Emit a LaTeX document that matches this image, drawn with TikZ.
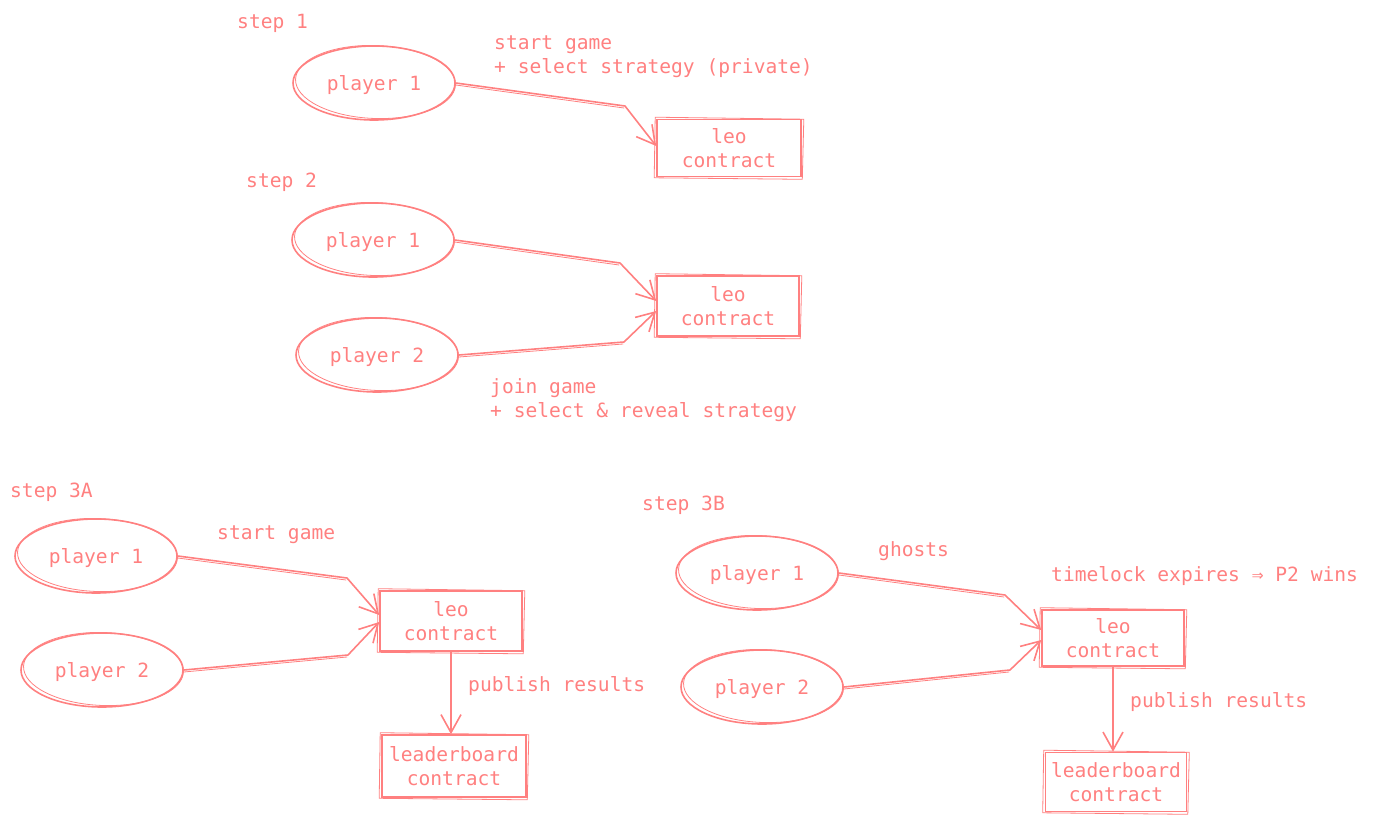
\documentclass[tikz,border=0pt]{standalone}
\usepackage{fontspec}
\setmonofont{DejaVu Sans Mono}
\usetikzlibrary{arrows.meta,calc,shapes.geometric}
\definecolor{sal}{RGB}{255,128,128}
\tikzset{
  every node/.style={text=sal, font=\ttfamily\fontsize{19.6}{24}\selectfont},
  pl/.style={ellipse, draw=sal, line width=1.6pt, minimum width=162pt, minimum height=74pt, inner sep=0pt, text height=18.5pt, text depth=4.5pt},
  bx/.style={rectangle, draw=sal, line width=1.6pt, minimum width=144pt, minimum height=58pt, align=center, inner sep=0pt},
  lbl/.style={anchor=west, align=left, inner sep=0pt},
  arr/.style={draw=sal, line width=1.6pt, line join=round, line cap=round, -{Straight Barb[length=18pt,width=20pt,line width=1.6pt]}},
  sk/.style={draw=sal, line width=0.8pt, line cap=round},
}
\newcommand\skell[1]{\draw[sk] ([shift={(1.5,-1)}]#1.center) ellipse [x radius=80, y radius=36.5, rotate=-2];}
\newcommand\skbox[1]{\draw[sk] ([shift={(-1,-1.5)}]#1.north west) -- ([shift={(2,0.5)}]#1.north east) -- ([shift={(0.5,2)}]#1.south east) -- ([shift={(-2,0.5)}]#1.south west) -- cycle;}
\begin{document}
\begin{tikzpicture}[x=1pt,y=-1pt]
\useasboundingbox (0,0) rectangle (1379,822);
% ---------- step 1
\node[lbl] (s1) at (237,23) {step 1};
\node[pl] (a1) at (374,83) {player 1}; \skell{a1}
\node[bx, minimum height=57pt] (a2) at (729,148) {leo\\contract}; \skbox{a2}
\node[lbl] (a3) at (494,57) {start game\\+ select strategy (private)};
\coordinate (a4) at (625,106);
\draw[arr] (a1.east) -- (a4) -- ([yshift=2pt]a2.west);
\draw[sk] ([shift={(0,2)}]a1.east) -- ([shift={(-1,2)}]a4);
% ---------- step 2
\node[lbl] (s2) at (246,182) {step 2};
\node[pl] (b1) at (373,240) {player 1}; \skell{b1}
\node[pl] (b2) at (377,355) {player 2}; \skell{b2}
\node[bx, minimum width=142pt, minimum height=60pt] (b3) at (728,306) {leo\\contract}; \skbox{b3}
\node[lbl] (b4) at (490,400) {join game\\+ select \& reveal strategy};
\coordinate (b5) at (620,263);
\coordinate (b6) at (624,342);
\draw[arr] (b1.east) -- (b5) -- ([yshift=5pt]b3.west);
\draw[arr] (b2.east) -- (b6) -- ([yshift=-5pt]b3.west);
\draw[sk] ([shift={(0,2)}]b1.east) -- ([shift={(-1,2)}]b5);
\draw[sk] ([shift={(0,2)}]b2.east) -- ([shift={(-1,2)}]b6);
% ---------- step 3A
\node[lbl] (s3) at (10,492) {step 3A};
\node[pl] (c1) at (96,556) {player 1}; \skell{c1}
\node[pl] (c2) at (102,670) {player 2}; \skell{c2}
\node[lbl] (c7) at (217,535) {start game};
\node[bx, minimum width=142pt, minimum height=60pt] (c3) at (451,621) {leo\\contract}; \skbox{c3}
\node[bx, minimum height=62pt] (c4) at (454,766) {leaderboard\\contract}; \skbox{c4}
\node[lbl] (c8) at (468,686) {publish results};
\coordinate (c5) at (347,578);
\coordinate (c6) at (348,655);
\draw[arr] (c1.east) -- (c5) -- ([yshift=6pt]c3.west);
\draw[arr] (c2.east) -- (c6) -- ([yshift=-1pt]c3.west);
\draw[sk] ([shift={(0,2)}]c1.east) -- ([shift={(-1,2)}]c5);
\draw[sk] ([shift={(0,2)}]c2.east) -- ([shift={(-1,2)}]c6);
\draw[arr] (c3.south) -- (c3.south |- c4.north);
% ---------- step 3B
\node[lbl] (s4) at (642,505) {step 3B};
\node[pl] (d1) at (757,573) {player 1}; \skell{d1}
\node[pl] (d2) at (762,687) {player 2}; \skell{d2}
\node[lbl] (d7) at (878,551) {ghosts};
\node[lbl] (d8) at (1051,576) {timelock expires ⇒ P2 wins};
\node[bx, minimum width=142pt, minimum height=56pt] (d3) at (1113,638) {leo\\contract}; \skbox{d3}
\node[bx, minimum width=141pt, minimum height=59pt] (d4) at (1116,782) {leaderboard\\contract}; \skbox{d4}
\node[lbl] (d9) at (1130,702) {publish results};
\coordinate (d5) at (1005,595);
\coordinate (d6) at (1010,670);
\draw[arr] (d1.east) -- (d5) -- ([yshift=8pt]d3.west);
\draw[arr] (d2.east) -- (d6) -- ([yshift=-2pt]d3.west);
\draw[sk] ([shift={(0,2)}]d1.east) -- ([shift={(-1,2)}]d5);
\draw[sk] ([shift={(0,2)}]d2.east) -- ([shift={(-1,2)}]d6);
\draw[arr] (d3.south) -- (d3.south |- d4.north);
\end{tikzpicture}
\end{document}
